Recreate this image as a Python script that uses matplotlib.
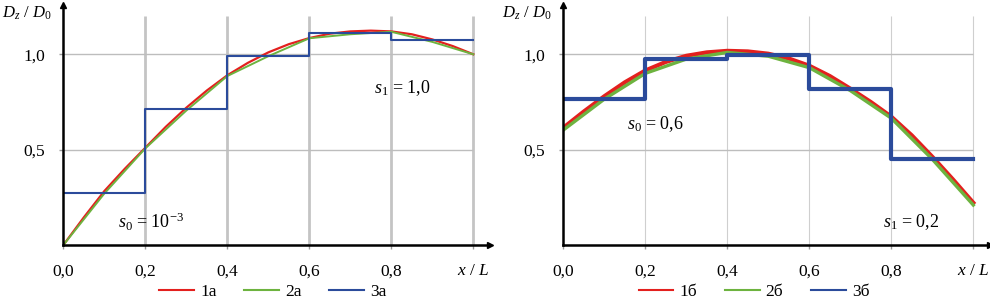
import numpy as np
import matplotlib.pyplot as plt

plt.rcParams['font.family'] = ['Liberation Serif', 'DejaVu Serif']
plt.rcParams['mathtext.fontset'] = 'custom'
plt.rcParams['mathtext.rm'] = 'Liberation Serif'
plt.rcParams['mathtext.it'] = 'Liberation Serif:italic'

# x / L sample points
x_fine = [0.0, 0.05, 0.1, 0.15, 0.2, 0.25, 0.3, 0.35, 0.4, 0.45, 0.5,
          0.55, 0.6, 0.65, 0.7, 0.75, 0.8, 0.85, 0.9, 0.95, 1.0]
x_curve = [0.0, 0.1, 0.2, 0.3, 0.4, 0.5, 0.6, 0.7, 0.8, 0.9, 1.0]
# step edges
x_edges = [0.0, 0.2, 0.4, 0.6, 0.8, 1.0]

# panel a: s0 = 1e-3, s1 = 1.0
red_a = [0.0, 0.145, 0.283, 0.40, 0.51, 0.62, 0.72, 0.81, 0.89, 0.955, 1.01,
         1.053, 1.085, 1.108, 1.12, 1.124, 1.12, 1.105, 1.078, 1.043, 1.0]
green_a = [0.0, 0.27, 0.507, 0.705, 0.886, 0.99, 1.084, 1.105, 1.118, 1.065, 1.0]
blue_a = [0.273, 0.712, 0.993, 1.113, 1.073]

# panel b: s0 = 0.6, s1 = 0.2
red_b = [0.615, 0.70, 0.78, 0.853, 0.915, 0.96, 0.992, 1.01, 1.018, 1.015, 1.003,
         0.978, 0.94, 0.886, 0.82, 0.75, 0.673, 0.575, 0.463, 0.345, 0.222]
green_b = [0.603, 0.765, 0.9, 0.975, 1.01, 0.99, 0.93, 0.81, 0.665, 0.45, 0.21]
blue_b = [0.767, 0.975, 0.996, 0.818, 0.45]

xticks = [0.0, 0.2, 0.4, 0.6, 0.8, 1.0]
xticklabels = ['0,0', '0,2', '0,4', '0,6', '0,8', '$x$ / $L$']
yticks = [0.5, 1.0]
yticklabels = ['0,5', '1,0']

RED = '#e3201e'
GREEN = '#6db33f'
BLUE = '#2b4b9b'

W, H = 990, 299
fig = plt.figure(figsize=(W / 100, H / 100), dpi=100)

def make_axes(left_px, vgrid_lw, vgrid_col):
    ax = fig.add_axes([left_px / W, (H - 245.1) / H, 1.04 * 410 / W, 1.26 * 190.8 / H])
    ax.set_xlim(0, 1.04)
    ax.set_ylim(0, 1.26)
    for s in ['top', 'right']:
        ax.spines[s].set_visible(False)
    for s in ['left', 'bottom']:
        ax.spines[s].set_linewidth(1.8)
    ax.plot(1, 0, '>k', ms=4, transform=ax.transAxes, clip_on=False)
    ax.plot(0, 1, '^k', ms=4, transform=ax.transAxes, clip_on=False)
    ax.vlines(xticks[1:], 0, 1.2, color=vgrid_col, lw=vgrid_lw, zorder=0)
    ax.hlines(yticks, 0, 1.0, color='#bdbdbd', lw=1.0, zorder=0)
    ax.set_xticks(xticks)
    ax.set_xticklabels(xticklabels)
    ax.set_yticks(yticks)
    ax.set_yticklabels(yticklabels)
    ax.tick_params(axis='both', direction='out', length=3, width=1, color='#9a9a9a',
                   labelsize=12.5, pad=10)
    fig.text((left_px - 61) / W, 1 - 13 / H, r'$D_z$ / $D_\mathrm{0}$', fontsize=12,
             ha='left', va='center')
    return ax

ax1 = make_axes(63.3, 2.0, '#c4c4c4')
ax1.plot(x_fine, red_a, color=RED, lw=1.6, label='1а')
ax1.plot(x_curve, green_a, color=GREEN, lw=1.4, label='2а')
ax1.step(x_edges, blue_a + blue_a[-1:], where='post', color=BLUE, lw=1.5, label='3а')
ax1.text(0.826, 0.821, r'$s_\mathrm{1}$ = 1,0', fontsize=13, ha='center', va='center')
ax1.text(0.214, 0.122, r'$s_\mathrm{0}$ = 10$^{-3}$', fontsize=13, ha='center', va='center')

ax2 = make_axes(563.3, 0.8, '#cfcfcf')
ax2.plot(x_fine, red_b, color=RED, lw=3.0, label='1б')
ax2.plot(x_curve, green_b, color=GREEN, lw=2.4, label='2б')
ax2.step(x_edges, blue_b + blue_b[-1:], where='post', color=BLUE, lw=3.0, label='3б')
ax2.text(0.225, 0.635, r'$s_\mathrm{0}$ = 0,6', fontsize=13, ha='center', va='center')
ax2.text(0.848, 0.122, r'$s_\mathrm{1}$ = 0,2', fontsize=13, ha='center', va='center')

for ax, cx in [(ax1, 273), (ax2, 754)]:
    leg = fig.legend(handles=ax.get_lines()[2:5], loc='center', ncol=3, frameon=False,
                     bbox_to_anchor=(cx / W, 1 - 292 / H), fontsize=12.5,
                     handlelength=2.0, handletextpad=0.35, columnspacing=1.6)
    for h in leg.get_lines():
        h.set_linewidth(1.5)

fig.savefig('out.png', dpi=100)
